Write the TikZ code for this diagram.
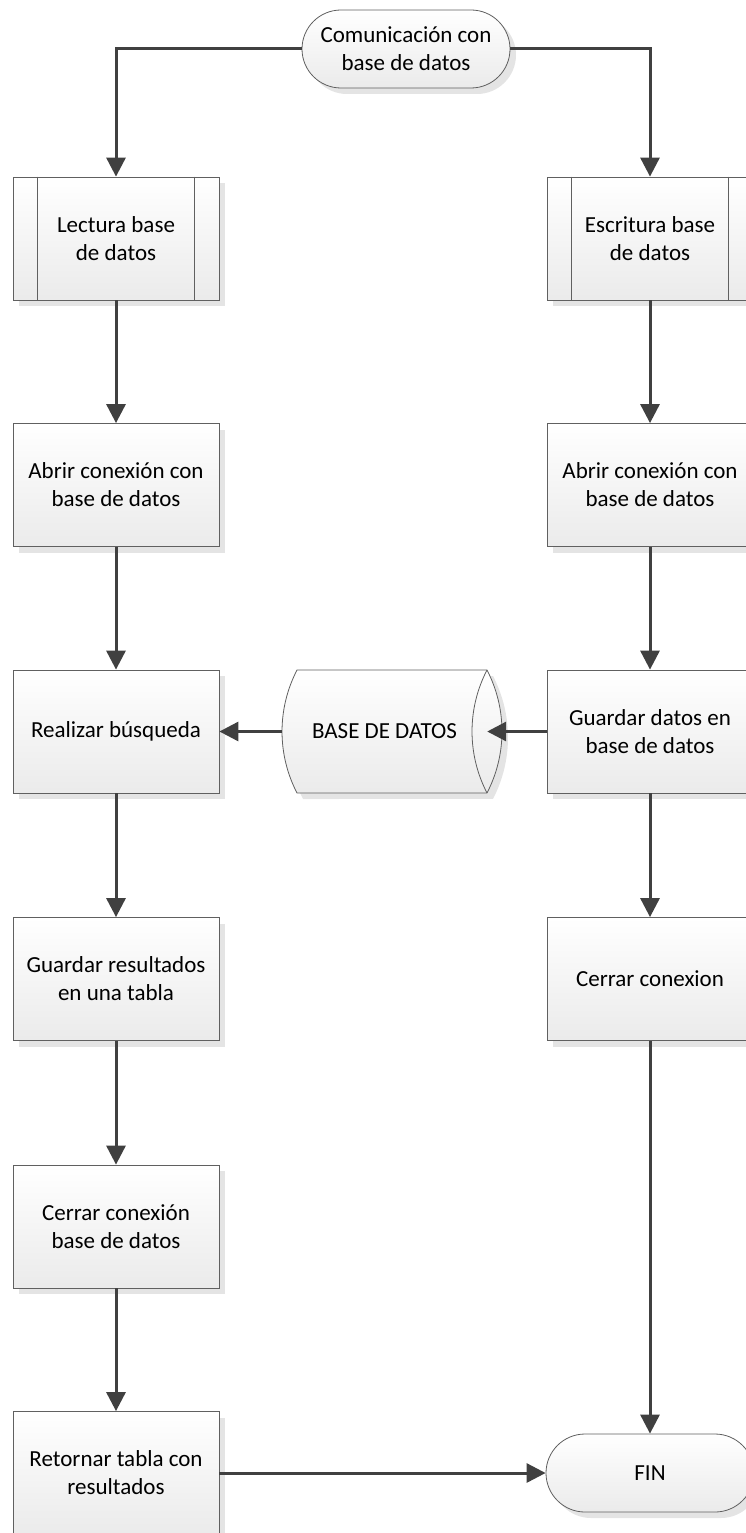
\documentclass[tikz,border=0pt]{standalone}
\usepackage{fontspec}
\setmainfont{Carlito}
\usetikzlibrary{arrows.meta,shadows,calc}
\definecolor{edgeclr}{HTML}{404040}
\definecolor{boxline}{HTML}{606060}
\definecolor{shadowclr}{HTML}{E4E4E4}
\tikzset{
  boxfont/.style={font=\fontsize{23}{28}\selectfont},
  base/.style={draw=boxline, line width=0.8pt, top color=white, bottom color=black!8,
    drop shadow={shadow xshift=6pt, shadow yshift=-6pt, fill=shadowclr, opacity=1},
    boxfont, align=center, inner sep=0pt, text=black},
  procbox/.style={base, rectangle, minimum width=206pt, minimum height=123pt},
  termbox/.style={base, rectangle, rounded corners=39pt, minimum width=208pt, minimum height=78pt},
  flow/.style={draw=edgeclr, line width=3pt, -{Triangle[length=19pt,width=19pt]}},
  sidebar/.style={draw=boxline, line width=0.8pt},
}
% outline of the horizontal drum: straight top/bottom, lens-shaped circular ends
\newcommand{\drumpath}[2]{%
  (#1+297,#2-670) -- (#1+487,#2-670)
  arc[start angle=27.4, end angle=-27.4, radius=133.6]
  -- (#1+297,#2-793)
  arc[start angle=207.4, end angle=152.6, radius=133.6] -- cycle}
\begin{document}
\begin{tikzpicture}[x=1pt, y=1pt]
\useasboundingbox (0,0) rectangle (746,-1533);

% start terminal
\node[termbox] (start) at (406,-49) {Comunicación con\\base de datos};

% left branch: reading
\node[procbox] (lec)  at (116,-238.5) {Lectura base\\de datos};
\node[procbox] (abr1) at (116,-485)   {Abrir conexión con\\base de datos};
\node[procbox] (rea)  at (116,-731.5) {Realizar búsqueda};
\node[procbox] (gres) at (116,-979)   {Guardar resultados\\en una tabla};
\node[procbox] (ccb)  at (116,-1226.5){Cerrar conexión\\base de datos};
\node[procbox] (ret)  at (116,-1473)  {Retornar tabla con\\resultados};

% right branch: writing
\node[procbox] (esc)  at (650,-238.5) {Escritura base\\de datos};
\node[procbox] (abr2) at (650,-485)   {Abrir conexión con\\base de datos};
\node[procbox] (gua)  at (650,-731.5) {Guardar datos en\\base de datos};
\node[procbox] (cer)  at (650,-979)   {Cerrar conexion};
\node[termbox] (fin)  at (650,-1473)  {FIN};

% predefined-process side bars
\foreach \n in {lec, esc} {
  \draw[sidebar] ($(\n.north west)+(25,0)$) -- ($(\n.south west)+(25,0)$);
  \draw[sidebar] ($(\n.north east)+(-25,0)$) -- ($(\n.south east)+(-25,0)$);
}

% database drum
\fill[shadowclr] \drumpath{6}{-6};
\path[draw=boxline, line width=0.8pt, top color=white, bottom color=black!8] \drumpath{0}{0};
\draw[sidebar] (487,-670) arc[start angle=152.6, end angle=207.4, radius=133.6];
\node[boxfont, minimum width=205pt, minimum height=123pt, inner sep=0pt]
  (db) at (384.5,-731.5) {BASE DE DATOS};

% connectors
\draw[flow] (start.west) -| (lec.north);
\draw[flow] (start.east) -| (esc.north);
\draw[flow] (lec.south) -- (abr1.north);
\draw[flow] (abr1.south) -- (rea.north);
\draw[flow] (rea.south) -- (gres.north);
\draw[flow] (gres.south) -- (ccb.north);
\draw[flow] (ccb.south) -- (ret.north);
\draw[flow] (esc.south) -- (abr2.north);
\draw[flow] (abr2.south) -- (gua.north);
\draw[flow] (gua.south) -- (cer.north);
\draw[flow] (cer.south) -- (fin.north);
\draw[flow] (gua.west) -- (db.east);
\draw[flow] (db.west) -- (rea.east);
\draw[flow] (ret.east) -- (fin.west);
\end{tikzpicture}
\end{document}
